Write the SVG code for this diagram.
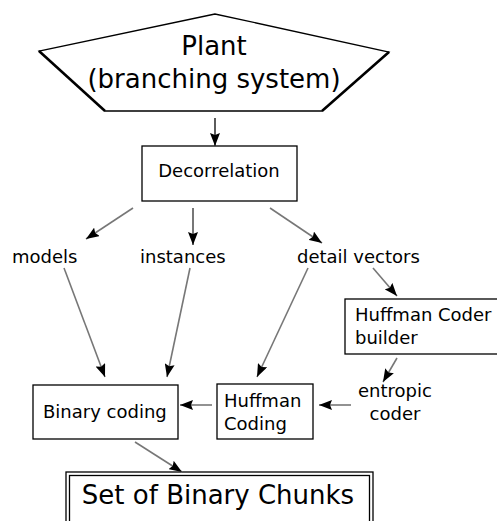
<svg xmlns="http://www.w3.org/2000/svg" width="497" height="521" viewBox="0 0 497 521">
<defs>
<marker id="ah" viewBox="0 0 13 10" refX="13" refY="5" markerWidth="13" markerHeight="10" markerUnits="userSpaceOnUse" orient="auto">
<path d="M0,0 L13,5 L0,10 L2,5 z" fill="#000"/>
</marker>
<style>
.box{fill:#fff;stroke:#000;stroke-width:1.3}
.t{font-family:"DejaVu Sans",sans-serif;font-size:18px;fill:#000}
.tl{font-family:"DejaVu Sans",sans-serif;font-size:26px;fill:#000}
.c{stroke:#777;stroke-width:1.6;fill:none;marker-end:url(#ah)}
</style>
</defs>
<rect width="497" height="521" fill="#fff"/>
<g id="plant">
<polygon points="215,14 39,51 105,111 322,111 389,52" fill="#fff" stroke="#000" stroke-width="1.3"/>
<line x1="39" y1="51" x2="105" y2="111" stroke="#000" stroke-width="2.5"/>
<line x1="389" y1="52" x2="322" y2="111" stroke="#000" stroke-width="2.5"/>
<text class="tl" x="214" y="55" text-anchor="middle">Plant</text>
<text class="tl" x="214" y="88" text-anchor="middle">(branching system)</text>
</g>
<g id="decorrelation">
<rect class="box" x="142" y="146" width="155" height="55"/>
<text class="t" x="219" y="177" text-anchor="middle">Decorrelation</text>
</g>
<g id="models"><text class="t" x="12" y="263">models</text></g>
<g id="instances"><text class="t" x="140" y="263">instances</text></g>
<g id="detail"><text class="t" x="297" y="263">detail vectors</text></g>
<g id="hcb">
<rect class="box" x="345" y="299" width="160" height="55"/>
<text class="t" x="355" y="321">Huffman Coder</text>
<text class="t" x="355" y="344">builder</text>
</g>
<g id="entropic">
<text class="t" x="395" y="397" text-anchor="middle">entropic</text>
<text class="t" x="395" y="420" text-anchor="middle">coder</text>
</g>
<g id="huffman">
<rect class="box" x="217" y="384" width="96" height="55"/>
<text class="t" x="224" y="407">Huffman</text>
<text class="t" x="224" y="430">Coding</text>
</g>
<g id="binary">
<rect class="box" x="33" y="385" width="145" height="54"/>
<text class="t" x="43" y="418">Binary coding</text>
</g>
<g id="chunks">
<rect class="box" x="66" y="472" width="307" height="70"/>
<rect x="69.5" y="475.5" width="300" height="70" fill="none" stroke="#000" stroke-width="1.3"/>
<text class="tl" x="218" y="504" text-anchor="middle">Set of Binary Chunks</text>
</g>
<g id="connectors">
<line class="c" x1="215" y1="118" x2="215" y2="146" style="stroke:#333"/>
<line class="c" x1="133" y1="208" x2="86" y2="239"/>
<line class="c" x1="193" y1="208" x2="193" y2="245" style="stroke:#555"/>
<line class="c" x1="270" y1="208" x2="322" y2="243"/>
<line class="c" x1="64" y1="268" x2="105" y2="377"/>
<line class="c" x1="190" y1="268" x2="167" y2="377"/>
<line class="c" x1="308" y1="268" x2="257" y2="377"/>
<line class="c" x1="373" y1="268" x2="397" y2="296"/>
<line class="c" x1="397" y1="358" x2="383" y2="382"/>
<line class="c" x1="351" y1="405" x2="319" y2="405"/>
<line class="c" x1="212" y1="405" x2="180" y2="405"/>
<line class="c" x1="135" y1="442" x2="182" y2="472"/>
</g>
</svg>
